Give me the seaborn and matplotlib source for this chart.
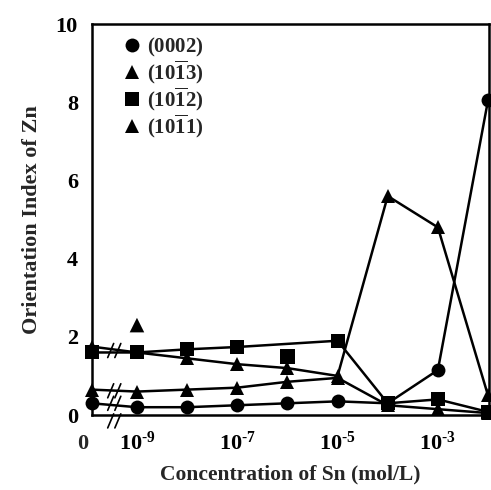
import numpy as np
import pandas as pd
import matplotlib
matplotlib.use("Agg")
import matplotlib.pyplot as plt
import matplotlib.transforms as mtransforms
from matplotlib.lines import Line2D
from matplotlib.ticker import LogLocator, NullFormatter, MultipleLocator
import seaborn as sns

# ---- data ----
conc = [0, 1e-9, 1e-8, 1e-7, 1e-6, 1e-5, 1e-4, 1e-3, 1e-2]
oi_0002 = [0.30, 0.20, 0.20, 0.25, 0.30, 0.35, 0.30, 1.15, 8.05]
oi_10m13 = [1.75, 1.60, 1.45, 1.30, 1.20, 1.00, 5.60, 4.80, 0.50]
oi_10m12 = [1.60, 1.60, 1.68, 1.74, np.nan, 1.90, 0.30, 0.40, 0.08]
oi_10m11 = [0.65, 0.60, 0.65, 0.70, 0.85, 0.95, 0.25, 0.15, 0.05]
labels = ["$(0002)$", "$(10\\overline{1}3)$", "$(10\\overline{1}2)$", "$(10\\overline{1}1)$"]
extra_series = [labels[1], labels[2]]
extra_conc = [1e-9, 1e-6]
extra_vals = [2.30, 1.50]

xtick_vals = [1e-9, 1e-7, 1e-5, 1e-3]
xtick_labels = ["10$^{\u20109}$", "10$^{\u20107}$", "10$^{\u20105}$", "10$^{\u20103}$"]

# ---- style ----
sns.set_style("white")
plt.rcParams["font.family"] = ["Liberation Serif", "DejaVu Serif"]
plt.rcParams["font.weight"] = "bold"
plt.rcParams["mathtext.fontset"] = "custom"
plt.rcParams["mathtext.rm"] = "Liberation Serif:bold"
plt.rcParams["mathtext.it"] = "Liberation Serif:bold"
plt.rcParams["mathtext.bf"] = "Liberation Serif:bold"
plt.rcParams["mathtext.default"] = "rm"

ZERO_POS = 10 ** -9.9
def pos(c):
    return ZERO_POS if c == 0 else c

rows = []
for lab, vals in zip(labels, [oi_0002, oi_10m13, oi_10m12, oi_10m11]):
    for c, v in zip(conc, vals):
        if not np.isnan(v):
            rows.append({"x": pos(c), "y": v, "series": lab})
df = pd.DataFrame(rows)
df_extra = pd.DataFrame({"x": extra_conc, "y": extra_vals, "series": extra_series})

markers = {labels[0]: "o", labels[1]: "^", labels[2]: "s", labels[3]: "^"}

fig = plt.figure(figsize=(4.91, 4.90), dpi=100)
ax = fig.add_axes([0.187, 0.153, 0.809, 0.798])

sns.lineplot(data=df, x="x", y="y", style="series", markers=markers, dashes=False,
             color="black", linewidth=1.8, markersize=10, legend=False, ax=ax,
             estimator=None, clip_on=False, markeredgewidth=0)
sns.scatterplot(data=df_extra, x="x", y="y", style="series", markers=markers,
                color="black", s=110, linewidth=0, legend=False, ax=ax, clip_on=False)

ax.set_xscale("log")
ax.set_xlim(ZERO_POS, 10 ** -1.98)
ax.set_ylim(0, 10)

ax.set_xticks(xtick_vals)
ax.set_xticklabels(xtick_labels)
ax.xaxis.set_minor_locator(LogLocator(base=10, subs=np.arange(2, 10), numticks=20))
ax.xaxis.set_minor_formatter(NullFormatter())
ax.yaxis.set_major_locator(MultipleLocator(2))
ax.yaxis.set_minor_locator(MultipleLocator(0.5))

ax.tick_params(axis="both", which="both", direction="in", top=False, right=False,
               width=1.5, labelsize=16, colors="black")
ax.tick_params(axis="y", which="major", length=10, pad=10)
ax.tick_params(axis="y", which="minor", length=6)
ax.tick_params(axis="x", which="major", length=6, pad=12)
ax.tick_params(axis="x", which="minor", length=4)
for lab in ax.get_xticklabels() + ax.get_yticklabels():
    lab.set_fontweight("bold")

for sp in ax.spines.values():
    sp.set_linewidth(1.8)
    sp.set_color("black")

ax.text(-0.022, -0.075, "0", transform=ax.transAxes, ha="center", va="center",
        fontsize=16, fontweight="bold")

# axis-break marks
trans = mtransforms.blended_transform_factory(ax.transAxes, ax.transData)
for yb in [1.65, 0.62, 0.3, -0.15]:
    for dx in (0.0, 0.018):
        ax.plot([0.04 + dx, 0.055 + dx], [yb - 0.18, yb + 0.18], transform=trans,
                color="black", lw=1.2, clip_on=False)

ax.set_xlabel("Concentration of Sn (mol/L)", fontsize=15.5, fontweight="bold", labelpad=7)
ax.set_ylabel("Orientation Index of Zn", fontsize=16, fontweight="bold", labelpad=10)

handles = [Line2D([], [], linestyle="none", marker=markers[l], color="black",
                  markersize=10, markeredgewidth=0) for l in labels]
ax.legend(handles, labels, loc="upper left", bbox_to_anchor=(0.035, 1.005), frameon=False,
          handletextpad=0.15, labelspacing=0.0, borderaxespad=0.25,
          handlelength=1.2, prop={"weight": "bold", "size": 15})

fig.savefig("out.png", dpi=100)
